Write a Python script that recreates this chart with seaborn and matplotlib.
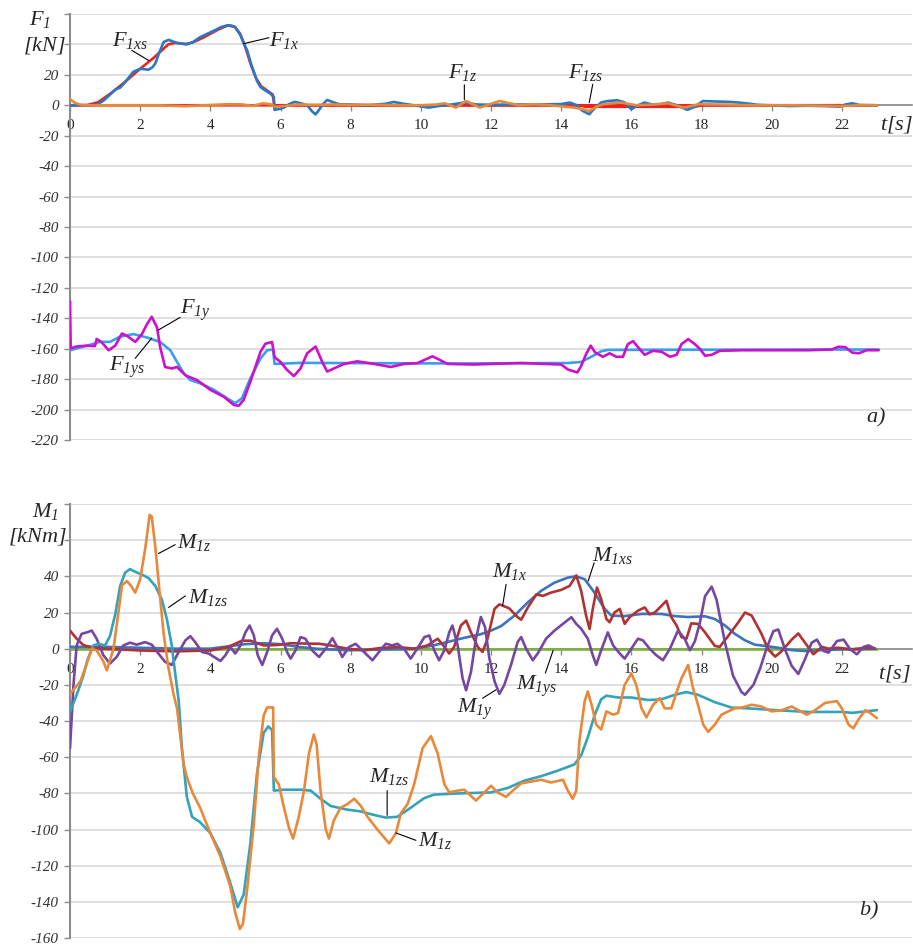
import numpy as np
import pandas as pd
import seaborn as sns
import matplotlib
matplotlib.use("Agg")
import matplotlib.pyplot as plt

# ---------------- data: panel a) forces [kN] ----------------
t_F1x = [0, 0.5, 0.77, 0.95, 1.14, 1.3, 1.43, 1.6, 1.8, 2.0, 2.24, 2.35, 2.43, 2.55, 2.67, 2.81, 2.95, 3.05, 3.33, 3.5,
         3.71, 4.1, 4.3, 4.48, 4.6, 4.71, 4.86, 4.95, 5.05, 5.15, 5.24, 5.33, 5.43, 5.55, 5.71, 5.81, 5.83, 5.95, 6.1,
         6.25, 6.4, 6.55, 6.76, 6.9, 7.0, 7.1, 7.2, 7.33, 7.5, 7.67, 8.0, 8.5, 9.0, 9.23, 9.5, 9.8, 10.0, 10.23, 10.5,
         10.8, 11.24, 11.6, 12.0, 12.5, 13.0, 13.5, 14.0, 14.25, 14.45, 14.6, 14.8, 14.95, 15.14, 15.3, 15.6, 15.8,
         16.0, 16.15, 16.37, 16.6, 16.8, 17.04, 17.3, 17.6, 17.8, 18.04, 18.4, 18.83, 19.2, 19.6, 19.94, 20.5, 21.0,
         21.5, 21.95, 22.1, 22.29, 22.5, 23.0]
F1x = [0, 0, 0.5, 3, 7, 10.5, 11.6, 16, 21.9, 24, 23.4, 25, 27.4, 35, 41.6, 43, 41.8, 41, 40, 41.5,
       44.8, 49, 51.3, 52.5, 52.4, 51.4, 46, 41, 36, 28, 21.9, 16, 12, 10, 7.7, 5.4, -3, -2.5, -1.5,
       0.8, 2.2, 1.5, 0, -4, -6, -3, 0.5, 3.5, 2, 0.7, 0.5, 0, 1, 2.2, 1, 0, -0.8, -1.5, -0.5,
       0.3, 1.8, 0.5, 0.3, 0.5, 0.5, 0.6, 0.8, 1.8, 0, -3.5, -5.9, -2, 1.8, 2.7, 3.3, 2,
       -2.6, -0.5, 1.8, 0.5, 0.5, 1.8, 0, -3, -1, 2.8, 2.5, 2.2, 1.5, 0.3, 0, -0.5, -0.3,
       -0.5, -0.9, 0.5, 1.3, 0.2, 0]

t_F1xs = [0, 0.5, 0.8, 1.2, 1.6, 2.0, 2.4, 2.8, 3.0, 3.3, 3.5, 3.8, 4.2, 4.5, 4.7, 4.85, 5.0, 5.15, 5.3, 5.45,
          5.6, 5.78, 5.82, 23.0]
F1xs = [0, 0.2, 2, 8.5, 16, 24, 31.5, 40, 41, 40.3, 41.3, 44.5, 49.5, 52.5, 51.5, 47, 38, 27, 18, 12.5,
        10, 7, 0, 0]

t_F1zs = [0, 14.5, 14.7, 17.8, 18.0, 23.0]
F1zs = [0, 0, -1, -1, 0, 0]

t_F1z = [0, 0.15, 0.35, 1.5, 2.5, 3.3, 3.8, 4.5, 4.9, 5.2, 5.5, 5.75, 5.85, 6.1, 6.5, 7.0, 7.5, 8.0, 8.5, 9.0,
         9.5, 10.0, 10.4, 10.68, 11.0, 11.29, 11.5, 11.68, 11.95, 12.24, 12.5, 12.8, 13.24, 13.7, 14.36, 14.6,
         14.8, 15.0, 15.2, 15.7, 16.15, 16.6, 17.04, 17.5, 17.93, 18.5, 19.5, 20.5, 21.5, 22.0, 22.5, 23.0]
F1z = [4, 1.5, 0, 0, 0, -0.6, 0, 0.7, 0.6, -0.4, 1.3, 0.5, -1, -0.5, 0.5, 0.3, 0.5, 0.2, 0.4, 0.2,
       0, 0, 0.4, 1.3, -1.5, 2.8, 0.5, -1.5, 0.5, 2.8, 1.5, 0, 0.7, 0, -1.5, -2.5,
       -3.7, -1, 0.7, 1.8, 0, 0.5, 1.3, -1.5, 0.7, 0.5, 0, 0, -0.3, -0.5, 0, 0]

t_F1y = [0, 0.02, 0.19, 0.48, 0.71, 0.76, 0.9, 1.1, 1.29, 1.48, 1.62, 1.86, 2.05, 2.19, 2.33, 2.48, 2.57, 2.71,
         2.9, 3.05, 3.29, 3.62, 4.0, 4.38, 4.67, 4.81, 4.95, 5.19, 5.43, 5.57, 5.76, 5.83, 6.0, 6.19, 6.38, 6.57,
         6.76, 7.0, 7.19, 7.33, 7.52, 7.81, 8.19, 8.67, 9.14, 9.52, 9.9, 10.33, 10.57, 10.76, 11.52, 12.0, 12.86,
         14.0, 14.19, 14.46, 14.57, 14.71, 14.84, 14.97, 15.19, 15.38, 15.57, 15.76, 15.9, 16.05, 16.19, 16.38,
         16.62, 16.86, 17.1, 17.29, 17.43, 17.62, 17.81, 17.95, 18.1, 18.29, 18.52, 19.14, 20.1, 21.05, 21.71,
         21.9, 22.1, 22.29, 22.48, 22.71, 23.05]
F1y = [-129, -159.8, -158.5, -158, -158.3, -153.6, -155.7, -161, -158, -150, -151.5, -155.5, -150.4, -144, -139,
       -146, -159, -172, -173, -172, -177.5, -180.6, -187, -191.5, -197, -197.5, -193.7, -178.4, -162, -156.7,
       -155.6, -165.5, -168.7, -174, -178, -173, -163, -158.6, -168.7, -175, -173, -170, -168.3, -170, -172,
       -170, -169.5, -165, -167.7, -170, -170.4, -170, -169.4, -170.4, -173.6, -175.6, -171.3, -163.6, -158,
       -162.5, -165.3, -163, -165.3, -165.3, -157, -155, -159, -164, -161.4, -162, -165.3, -164, -157, -153.7,
       -157, -160, -164.6, -164, -161.4, -161, -161, -161, -160.5, -158.7, -159, -162.5, -163, -161, -161]

t_F1ys = [0, 0.48, 0.86, 1.14, 1.43, 1.81, 2.19, 2.57, 2.86, 3.05, 3.24, 3.43, 3.71, 4.1, 4.48, 4.71, 4.9, 5.14,
          5.43, 5.62, 5.79, 5.83, 6.57, 8.48, 11.14, 14.19, 14.57, 14.86, 15.14, 15.33, 23.05]
F1ys = [-161, -158, -155.5, -155.5, -152, -150.4, -152.6, -155.6, -161, -168.7, -176, -180.6, -182.7, -187,
        -192.6, -195.8, -192.6, -179.5, -166.4, -161, -160.6, -170, -169.3, -169.5, -169.7, -169.4, -168.7,
        -165.3, -161.7, -160.8, -160.5]

# ---------------- data: panel b) moments [kNm] ----------------
t_M1z = [0, 0.3, 0.5, 0.62, 0.76, 0.95, 1.05, 1.24, 1.38, 1.48, 1.62, 1.73, 1.86, 2.0, 2.14, 2.27, 2.33, 2.43, 2.54,
         2.67, 2.8, 2.95, 3.05, 3.24, 3.33, 3.5, 3.71, 4.0, 4.29, 4.57, 4.71, 4.84, 4.93, 5.05, 5.24, 5.38, 5.52,
         5.62, 5.79, 5.81, 5.95, 6.1, 6.24, 6.36, 6.52, 6.67, 6.81, 6.95, 7.03, 7.14, 7.29, 7.38, 7.52, 7.71, 7.9,
         8.1, 8.29, 8.48, 8.76, 9.1, 9.29, 9.43, 9.62, 9.81, 10.05, 10.29, 10.48, 10.67, 10.81, 11.05, 11.24, 11.57,
         11.81, 12.0, 12.19, 12.43, 12.62, 12.86, 13.14, 13.43, 13.71, 14.05, 14.19, 14.33, 14.43, 14.52, 14.67,
         14.76, 14.88, 15.0, 15.14, 15.29, 15.48, 15.62, 15.81, 16.0, 16.14, 16.29, 16.43, 16.62, 16.81, 16.95,
         17.14, 17.29, 17.43, 17.62, 17.76, 17.9, 18.05, 18.19, 18.38, 18.57, 18.76, 18.95, 19.14, 19.43, 19.71,
         20.0, 20.29, 20.57, 20.76, 21.0, 21.24, 21.52, 21.86, 22.0, 22.19, 22.33, 22.48, 22.67, 22.81, 23.0]
M1z = [-25, -18, -7, 0, -1, -7, -12, 0, 20, 35, 37.4, 35, 31, 38.4, 54.8, 74, 73, 56.6, 34,
       8, -10, -25, -33, -64, -71, -80, -88, -102, -115, -131.5, -146, -155, -152, -133, -97, -60, -37,
       -32.5, -32.5, -71, -75, -88, -99, -105, -93, -78.5, -58, -47.5, -53, -78.5, -100, -105, -95, -88, -86,
       -83, -87, -93, -100, -107.7, -102, -91, -86, -75, -55, -48.4, -58, -75, -79.5, -78.5, -78, -84,
       -79.5, -75.8, -79.5, -82, -78.5, -74.5, -73.5, -72.5, -74, -72.5, -78.5, -83, -78.5, -51, -29,
       -23.7, -32, -42, -44.7, -34.7, -36.5, -35.6, -20, -13.7, -20, -33, -38, -31, -27.4, -33,
       -33, -24, -16.4, -9, -22, -31, -42, -46, -42, -36.5, -34.7, -33, -32.6, -31, -32,
       -34.7, -34, -32, -34, -36.5, -34, -30, -29, -33, -42, -44, -39, -34, -35.6, -38.4]

t_M1zs = [0, 0.2, 0.38, 0.5, 0.67, 0.81, 1.0, 1.14, 1.29, 1.43, 1.57, 1.71, 1.86, 2.05, 2.24, 2.43, 2.62, 2.76, 2.9,
          3.0, 3.1, 3.19, 3.33, 3.48, 3.71, 4.0, 4.29, 4.57, 4.78, 4.95, 5.14, 5.33, 5.52, 5.65, 5.76, 5.81, 6.1,
          6.57, 6.86, 7.14, 7.43, 7.9, 8.29, 8.67, 9.0, 9.33, 9.71, 10.1, 10.38, 11.14, 12.0, 12.48, 12.95, 13.43,
          13.9, 14.38, 14.57, 14.76, 14.95, 15.14, 15.29, 15.62, 16.0, 16.48, 16.86, 17.24, 17.57, 17.9, 18.38,
          18.86, 19.33, 20.1, 21.05, 22.0, 22.3, 23.0]
M1zs = [-35, -25, -15, -6, 1.8, 2.7, 1.8, 7, 19, 34.7, 42, 44, 42.5, 41, 39, 34.7, 27, 16.4, 1.8,
        -14, -29, -55, -82, -93, -96, -102, -113, -129.7, -143, -136, -107.8, -69, -46.6, -43, -45, -78.5, -78,
        -78, -78.5, -83, -87, -89, -90, -92, -93.4, -93, -88, -82.6, -80.7, -80, -79.5, -77, -73, -70.5,
        -67.5, -64, -59, -49, -37, -28, -26, -27, -27, -28.4, -28, -25.5, -24, -25.5, -29.6,
        -32.6, -33, -34, -35, -35, -35.5, -34]

t_M1x = [0, 0.19, 0.38, 0.67, 1.0, 2.0, 3.0, 4.0, 4.48, 4.9, 5.14, 5.52, 5.9, 6.29, 6.8, 7.1, 7.43, 7.9, 8.38, 8.86,
         9.33, 9.81, 10.19, 10.48, 10.67, 10.81, 10.95, 11.14, 11.29, 11.43, 11.62, 11.76, 11.9, 12.1, 12.24, 12.52,
         12.76, 12.86, 13.05, 13.29, 13.48, 13.71, 14.0, 14.24, 14.43, 14.57, 14.71, 14.81, 14.9, 15.02, 15.14,
         15.29, 15.38, 15.52, 15.67, 15.81, 15.95, 16.19, 16.38, 16.52, 16.67, 16.86, 17.0, 17.14, 17.29, 17.43,
         17.57, 17.71, 17.9, 18.1, 18.38, 18.52, 18.76, 19.05, 19.24, 19.43, 19.71, 19.9, 20.1, 20.29, 20.57,
         20.76, 20.95, 21.19, 21.43, 21.62, 21.9, 22.29, 22.67, 22.95]
M1x = [10, 5.5, 2, 0.4, 0, -1, -1.5, -1, 0.7, 4.4, 4.4, 1.8, 2, 3, 2.8, 2.7, 1.8, 0, -0.9, 0.4,
       0.9, 0, 1.8, 5.5, 1, -2.7, 1, 12.8, 15.5, 9, 1, -1.8, 5.5, 22, 24.5, 22.3,
       17.4, 16, 22.8, 30, 29.2, 31, 32.5, 34.7, 40.5, 32, 18.3, 10.9, 21.9, 33.8, 27.4,
       16.4, 14.6, 20, 22, 13.7, 17.4, 21, 22.8, 19, 20, 23.7, 26.5, 17.4, 12.8, 6.4,
       5.5, 14, 13.7, 9, 1.5, 1, 7, 14.6, 20, 18.3, 8.2, -0.4, -4.4, -1.3, 5,
       8.4, 3.3, -3.1, 1, 0, 0.5, -0.4, 0.5, 0]

t_M1xs = [0, 1, 2, 3, 4, 5, 5.5, 6.0, 6.5, 7.0, 7.9, 8.86, 9.81, 10.29, 10.76, 11.24, 11.71, 12.0, 12.29, 12.67,
          13.05, 13.43, 13.81, 14.19, 14.43, 14.67, 14.95, 15.24, 15.43, 15.81, 16.29, 16.86, 17.24, 17.62, 18.1,
          18.38, 18.67, 18.95, 19.24, 19.52, 19.81, 20.19, 20.57, 20.95, 21.52, 22.0, 22.95]
M1xs = [1, 1, 0.5, 0, 0, 2.5, 3, 2.5, 1, 0, -0.9, -0.5, 0, 1.5, 3.7, 6, 8, 10, 12.5, 18.3,
        25.6, 32, 36.5, 39.3, 40, 38.4, 31, 22, 18.3, 18, 19.2, 19.2, 18, 17.5, 17.9,
        16.4, 12.8, 8.2, 4.6, 2.2, 1.5, 0.5, -0.8, -1.3, -0.7, -0.4, 0]

t_M1y = [0, 0.1, 0.19, 0.33, 0.48, 0.62, 0.76, 0.95, 1.14, 1.33, 1.52, 1.71, 1.9, 2.14, 2.33, 2.52, 2.71, 2.9, 3.1,
         3.29, 3.43, 3.57, 3.76, 3.95, 4.14, 4.29, 4.43, 4.57, 4.71, 4.86, 5.0, 5.12, 5.24, 5.35, 5.48, 5.62, 5.76,
         5.9, 6.05, 6.19, 6.29, 6.43, 6.57, 6.71, 6.9, 7.1, 7.29, 7.48, 7.62, 7.76, 7.95, 8.14, 8.33, 8.62, 8.81,
         9.0, 9.19, 9.33, 9.52, 9.71, 9.9, 10.1, 10.24, 10.38, 10.52, 10.67, 10.81, 10.9, 11.05, 11.19, 11.29,
         11.43, 11.57, 11.71, 11.83, 11.95, 12.1, 12.24, 12.38, 12.57, 12.76, 12.86, 13.0, 13.19, 13.33, 13.57,
         13.81, 14.05, 14.29, 14.43, 14.57, 14.76, 14.9, 15.0, 15.14, 15.33, 15.48, 15.67, 15.81, 16.0, 16.19,
         16.33, 16.52, 16.71, 16.9, 17.1, 17.33, 17.52, 17.67, 17.81, 17.95, 18.1, 18.29, 18.43, 18.67, 18.9,
         19.14, 19.24, 19.48, 19.67, 19.86, 20.05, 20.19, 20.38, 20.57, 20.76, 20.95, 21.14, 21.29, 21.48, 21.62,
         21.86, 22.05, 22.24, 22.43, 22.62, 22.76, 22.95]
M1y = [-55, -20, 1.8, 8.2, 9, 10, 5.5, -3.6, -8.2, -4.6, 1.8, 3.3, 2.2, 3.6, 2.2, -2.7, -7.3, -9, -1.8,
       4.6, 6.9, 3.6, -1.8, -2.7, -5, -6.8, -3.6, 0.9, -2.7, 1.8, 9, 12.8, 7.3, -3.6, -9, -1.8, 7.3,
       11, 5.5, -2, -5.5, -0.9, 6.4, 5.5, -0.9, -4.6, 0, 5.8, 0.9, -4.6, 0.9, 2.7, -0.9, -6.4, -1.8,
       2.7, 1.8, 2.7, 0, -5.5, 0, 6.4, 7.3, -0.9, -6.4, -0.9, 9, 12.8, 1.8, -16.4, -23,
       -12.8, 5.5, 17.5, 12, -5, -18, -25, -20, -9, 3.7, 6.4, 0, -6.4, -2.7, 5.5,
       10, 13.7, 17.4, 13.7, 11, 5.5, -3.6, -9, -0.9, 9, 1.8, -2.7, -5.5, 0, 5.5,
       4.6, 0, -3.6, -6.4, 0, 10, 5.5, -0.9, 4, 14, 29, 34.3, 27, 3.3, -15,
       -24, -25.5, -20, -11, 0.5, 9.7, 10.6, -0.4, -9.5, -14, -5.8, 3.3, 5, -1.3, -2.2,
       4.2, 5, -0.4, -3.1, 1, 1.8, 0]

t_M1ys = [0, 23.0]
M1ys = [0, 0]

x_ticks = list(range(0, 24, 2))
yticks_a = list(range(-220, 61, 20))
yticks_b = list(range(-160, 81, 20))

# ---------------- styling ----------------
sns.set_theme(style="white")
plt.rcParams['font.family'] = ['Liberation Serif', 'DejaVu Serif']
plt.rcParams['mathtext.fontset'] = 'custom'
plt.rcParams['mathtext.it'] = 'Liberation Serif:italic'
plt.rcParams['mathtext.rm'] = 'Liberation Serif:italic'
plt.rcParams['mathtext.bf'] = 'Liberation Serif:italic'

W, H = 913, 946
fig = plt.figure(figsize=(W / 100, H / 100), dpi=100)
ax1 = fig.add_axes([70 / W, 1 - 440 / H, 842 / W, 426 / H])
ax2 = fig.add_axes([70 / W, 1 - 938 / H, 842 / W, 434 / H])

LW = 1.9


def line(ax, t, v, color, lw=LW, z=2):
    df = pd.DataFrame({"t": t, "v": v})
    sns.lineplot(data=df, x="t", y="v", ax=ax, color=color, lw=lw, sort=False,
                 estimator=None, zorder=z, legend=False)


# panel a
line(ax1, t_F1xs, F1xs, "#F02020", z=3)
line(ax1, t_F1zs, F1zs, "#F02020", z=3)
line(ax1, t_F1x, F1x, "#2878C4", z=4)
line(ax1, t_F1z, F1z, "#E8883A", z=5)
line(ax1, t_F1ys, F1ys, "#3A9EEE", z=3)
line(ax1, t_F1y, F1y, "#CC10CC", z=4)

# panel b
line(ax2, t_M1ys, M1ys, "#80B040", z=2)
line(ax2, t_M1xs, M1xs, "#3C74BE", z=3)
line(ax2, t_M1x, M1x, "#B03232", z=4)
line(ax2, t_M1y, M1y, "#7448A0", z=5)
line(ax2, t_M1zs, M1zs, "#33A2BC", z=6)
line(ax2, t_M1z, M1z, "#E8883A", z=7)

for ax, yt, ylim, hidden in ((ax1, yticks_a, (-220, 60), (40, 60)), (ax2, yticks_b, (-160, 80), (60, 80))):
    ax.set_xlim(0, 24)
    ax.set_ylim(*ylim)
    ax.set_xticks(x_ticks)
    ax.set_xticklabels([str(x) for x in x_ticks])
    ax.set_yticks(yt)
    ax.set_yticklabels(["" if y in hidden else str(y) for y in yt])
    for lbl in ax.get_xticklabels() + ax.get_yticklabels():
        lbl.set_fontfamily('Liberation Serif')
        lbl.set_fontstyle('italic')
        lbl.set_fontsize(11)
        lbl.set_color("#303030")
    ax.set_xlabel("")
    ax.set_ylabel("")
    ax.grid(axis='y', color="#D9D9D9", lw=1.2, zorder=0)
    ax.grid(axis='x', visible=False)
    for s in ("top", "right"):
        ax.spines[s].set_visible(False)
    ax.spines["bottom"].set_position(("data", 0))
    ax.spines["bottom"].set_color("#8C8C8C")
    ax.spines["left"].set_color("#8C8C8C")
    ax.spines["bottom"].set_linewidth(1.2)
    ax.spines["left"].set_linewidth(1.5)
    ax.spines["bottom"].set_zorder(1)
    ax.tick_params(axis='x', direction='out', length=4, width=1, color="#8C8C8C", pad=6, bottom=True)
    ax.tick_params(axis='y', direction='out', length=4, width=1, color="#8C8C8C", pad=4, left=True)
    ax.set_facecolor("white")

LF = 16
kw = dict(fontsize=LF, ha='center', va='center', clip_on=False, zorder=10)
lead = dict(arrowstyle='-', lw=0.8, color='black', shrinkA=0, shrinkB=0)


def label(ax, s, xy, p0=None, p1=None, **extra):
    d = dict(kw)
    d.update(extra)
    ax.text(xy[0], xy[1], s, **d)
    if p0 is not None:
        ax.annotate('', xy=p1, xytext=p0, arrowprops=lead, zorder=10)


# panel a annotations
label(ax1, r'$F_{1xs}$', (1.71, 42.5), (1.76, 36.1), (2.24, 29.5))
label(ax1, r'$F_{1x}$', (6.1, 42.5), (4.95, 40.5), (5.67, 44.4))
label(ax1, r'$F_{1z}$', (11.2, 21.5), (11.24, 13.5), (11.24, 3.7))
label(ax1, r'$F_{1zs}$', (14.7, 21.5), (14.9, 13.8), (14.8, 1.7))
label(ax1, r'$F_{1y}$', (3.56, -135), (2.52, -147.7), (3.14, -139.4))
label(ax1, r'$F_{1ys}$', (1.62, -172), (1.86, -166.3), (2.33, -153))
label(ax1, r'$a)$', (22.97, -205))
label(ax1, r'$t[s]$', (23.55, -12.5))
label(ax1, r'$F_{1}$', (-0.86, 56.5))
label(ax1, r'$[kN]$', (-0.74, 39.4))

# panel b annotations
label(ax2, r'$M_{1z}$', (3.55, 58.6), (2.52, 52.6), (3.0, 57.5))
label(ax2, r'$M_{1zs}$', (3.95, 28.5), (2.81, 22.8), (3.29, 29.2))
label(ax2, r'$M_{1x}$', (12.54, 42.5), (12.43, 35.6), (12.33, 23.7))
label(ax2, r'$M_{1xs}$', (15.47, 51.5), (14.77, 37.4), (14.94, 47.5))
label(ax2, r'$M_{1ys}$', (13.3, -21), (13.55, -13.5), (13.77, -1))
label(ax2, r'$M_{1y}$', (11.55, -33.5), (11.76, -27.4), (12.14, -22.8))
label(ax2, r'$M_{1zs}$', (9.1, -70.7), (9.04, -78.5), (9.04, -92.2))
label(ax2, r'$M_{1z}$', (10.4, -106.3), (9.29, -101.9), (9.86, -106))
label(ax2, r'$b)$', (22.76, -144.7))
label(ax2, r'$t[s]$', (23.5, -13.7))
label(ax2, r'$M_{1}$', (-0.69, 76))
label(ax2, r'$[kNm]$', (-0.93, 62))

fig.savefig("out.png", dpi=100, facecolor="white")
